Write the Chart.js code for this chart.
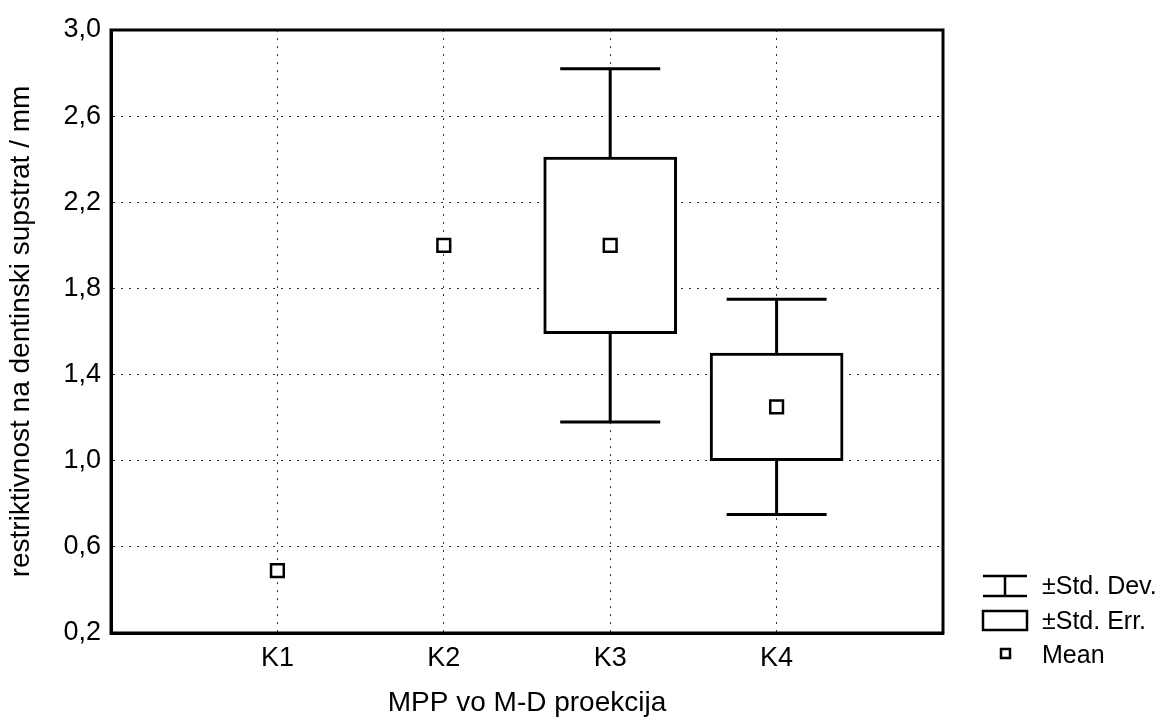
<!DOCTYPE html>
<html>
<head>
<meta charset="utf-8">
<script src="https://cdn.jsdelivr.net/npm/chart.js@4"></script>
<style>
  html, body { margin: 0; padding: 0; background: #fff; }
  #wrap { width: 1158px; height: 720px; }
</style>
</head>
<body>
<div id="wrap"><canvas id="graphCanvas" width="1158" height="720"></canvas></div>
<script>
// dati
var categorie = ['K1', 'K2', 'K3', 'K4'];
var medie = [0.49, 2.0, 2.0, 1.25];
var erroreStd = [0, 0, 0.41, 0.25];
var devStd = [0, 0, 0.82, 0.5];
var legendaTesti = ['\u00b1Std. Dev.', '\u00b1Std. Err.', 'Mean'];

var FONT = "'Liberation Sans', Arial, sans-serif";

// box = media +/- errore standard (barre flottanti)
var boxData = [];
var puntiMedia = [];
for (var i in categorie) {
    var pos = Number(i) + 1;
    if (erroreStd[i] > 0) {
        boxData.push({ x: pos, y: [medie[i] - erroreStd[i], medie[i] + erroreStd[i]] });
    }
    puntiMedia.push({ x: pos, y: medie[i] });
}

// baffi = media +/- deviazione standard
var baffiPlugin = {
    id: 'baffi',
    beforeDatasetsDraw: function (chart) {
        var ctx = chart.ctx;
        var xs = chart.scales.x, ys = chart.scales.y;
        ctx.save();
        ctx.strokeStyle = '#000';
        ctx.lineWidth = 3;
        for (var i in categorie) {
            if (!(devStd[i] > 0)) continue;
            var x = xs.getPixelForValue(Number(i) + 1);
            var yT = ys.getPixelForValue(medie[i] + devStd[i]);
            var yB = ys.getPixelForValue(medie[i] - devStd[i]);
            ctx.beginPath();
            ctx.moveTo(x, yT); ctx.lineTo(x, yB);
            ctx.moveTo(x - 50, yT); ctx.lineTo(x + 50, yT);
            ctx.moveTo(x - 50, yB); ctx.lineTo(x + 50, yB);
            ctx.stroke();
        }
        ctx.restore();
    },
    afterDraw: function (chart) {
        var ctx = chart.ctx;
        var a = chart.chartArea;
        ctx.save();
        // cornice
        ctx.strokeStyle = '#000';
        ctx.lineWidth = 3;
        ctx.strokeRect(a.left, a.top, a.right - a.left, a.bottom - a.top);
        // legenda
        var sx = a.right + 40;
        ctx.lineWidth = 2.5;
        ctx.beginPath();
        ctx.moveTo(sx, 576); ctx.lineTo(sx + 44, 576);
        ctx.moveTo(sx + 22, 576); ctx.lineTo(sx + 22, 596);
        ctx.moveTo(sx, 596); ctx.lineTo(sx + 44, 596);
        ctx.stroke();
        ctx.strokeRect(sx, 611, 44, 19);
        ctx.strokeRect(sx + 18, 649, 9, 9);
        ctx.fillStyle = '#000';
        ctx.font = '25px ' + FONT;
        ctx.textBaseline = 'middle';
        ctx.fillText(legendaTesti[0], sx + 59, 587);
        ctx.fillText(legendaTesti[1], sx + 59, 622);
        ctx.fillText(legendaTesti[2], sx + 59, 656);
        ctx.restore();
    }
};

Chart.defaults.font.family = FONT;
Chart.defaults.color = '#000';

var grafico = new Chart(document.getElementById('graphCanvas'), {
    type: 'bar',
    data: {
        datasets: [
            {
                type: 'scatter',
                label: 'Mean',
                data: puntiMedia,
                pointStyle: 'rect',
                pointRadius: 9,
                pointBackgroundColor: '#fff',
                pointBorderColor: '#000',
                pointBorderWidth: 2.5,
                order: 0
            },
            {
                type: 'bar',
                label: '\u00b1Std. Err.',
                data: boxData,
                backgroundColor: '#fff',
                borderColor: '#000',
                borderWidth: 3,
                borderSkipped: false,
                barThickness: 133,
                order: 1
            }
        ]
    },
    plugins: [baffiPlugin],
    options: {
        responsive: false,
        animation: false,
        layout: { padding: { top: 30, right: 215, left: 0, bottom: 0 } },
        plugins: { legend: { display: false }, tooltip: { enabled: false } },
        scales: {
            x: {
                type: 'linear',
                min: 0,
                max: 5,
                offset: false,
                ticks: {
                    stepSize: 1,
                    padding: 9,
                    font: { size: 27 },
                    callback: function (v) { return categorie[v - 1] || ''; }
                },
                grid: {
                    offset: false,
                    drawTicks: false,
                    color: function (c) { return (c.tick && c.tick.value > 0 && c.tick.value < 5) ? '#333' : 'rgba(0,0,0,0)'; },
                    lineWidth: 1
                },
                border: { color: '#000', width: 3, dash: [2, 6] },
                title: { display: true, text: 'MPP vo M-D proekcija', font: { size: 28 }, padding: { top: 8, bottom: 0 } },
                afterFit: function (s) { s.height = 87; }
            },
            y: {
                min: 0.2,
                max: 3.0,
                ticks: {
                    stepSize: 0.4,
                    padding: 10,
                    font: { size: 27 },
                    callback: function (v) { return v.toFixed(1).replace('.', ','); }
                },
                grid: {
                    drawTicks: false,
                    color: function (c) { return (c.tick && c.tick.value > 0.25 && c.tick.value < 2.95) ? '#333' : 'rgba(0,0,0,0)'; },
                    lineWidth: 1
                },
                border: { color: '#000', width: 3, dash: [2, 6] },
                title: { display: true, text: 'restriktivnost na dentinski supstrat / mm', font: { size: 28 }, padding: { top: 4, bottom: 6 } },
                afterFit: function (s) { s.width = 111; }
            }
        }
    }
});
</script>
</body>
</html>
